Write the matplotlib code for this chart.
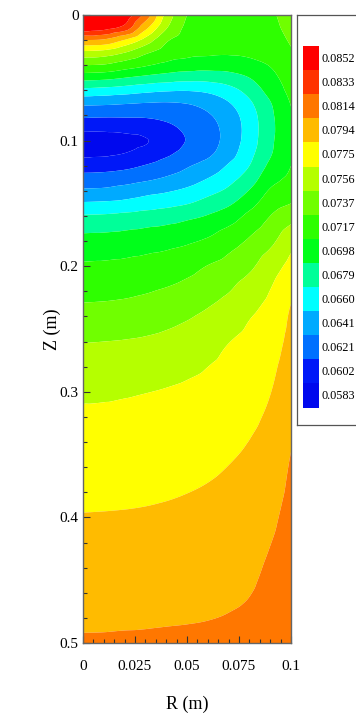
import matplotlib
matplotlib.use("Agg")
import matplotlib.pyplot as plt
import matplotlib.tri as mtri
from matplotlib.patches import Rectangle
from matplotlib.ticker import MultipleLocator
import numpy as np

plt.rcParams["font.family"] = ["Liberation Serif", "DejaVu Serif"]

# ------------------------------------------------------------
# data
# ------------------------------------------------------------
r_vals = [0.0, 0.01, 0.02, 0.03, 0.04, 0.05, 0.06, 0.07, 0.08, 0.09, 0.1]
z_vals = [0.0, 0.01, 0.02, 0.03, 0.04, 0.05, 0.06, 0.07, 0.08, 0.09,
          0.10, 0.11, 0.12, 0.13, 0.14, 0.15, 0.16, 0.18, 0.20, 0.23,
          0.26, 0.30, 0.35, 0.40, 0.45, 0.48, 0.50]

# field value in units of 1e-5, one row per z, one column per r
field_e5 = [
    [8900, 8840, 8660, 8270, 7700, 7370, 7300, 7280, 7290, 7340, 7460],
    [8660, 8600, 8450, 8000, 7580, 7330, 7290, 7270, 7280, 7320, 7430],
    [8140, 8110, 7930, 7680, 7400, 7290, 7260, 7250, 7260, 7290, 7390],
    [7700, 7670, 7560, 7400, 7280, 7220, 7200, 7190, 7210, 7260, 7350],
    [7370, 7350, 7270, 7190, 7120, 7080, 7060, 7060, 7100, 7180, 7300],
    [7050, 7030, 6980, 6930, 6890, 6860, 6860, 6900, 6980, 7110, 7260],
    [6740, 6720, 6690, 6650, 6620, 6610, 6640, 6720, 6860, 7050, 7220],
    [6460, 6450, 6430, 6410, 6400, 6420, 6480, 6590, 6760, 6970, 7180],
    [6250, 6240, 6240, 6240, 6270, 6320, 6390, 6510, 6700, 6940, 7150],
    [6060, 6060, 6070, 6100, 6160, 6250, 6340, 6480, 6680, 6930, 7130],
    [5960, 5960, 5980, 6010, 6090, 6220, 6330, 6480, 6690, 6940, 7130],
    [5980, 5990, 6020, 6080, 6170, 6280, 6370, 6520, 6730, 6960, 7140],
    [6120, 6130, 6160, 6220, 6300, 6390, 6480, 6620, 6790, 7020, 7170],
    [6280, 6290, 6320, 6370, 6430, 6500, 6600, 6720, 6880, 7100, 7210],
    [6440, 6450, 6490, 6540, 6580, 6640, 6730, 6830, 6990, 7190, 7270],
    [6620, 6630, 6650, 6690, 6730, 6780, 6860, 6950, 7100, 7280, 7370],
    [6805, 6812, 6834, 6863, 6892, 6936, 6991, 7075, 7218, 7370, 7489],
    [7043, 7049, 7063, 7084, 7107, 7142, 7197, 7290, 7396, 7516, 7687],
    [7194, 7200, 7212, 7233, 7260, 7306, 7376, 7437, 7527, 7662, 7807],
    [7376, 7382, 7394, 7416, 7448, 7489, 7543, 7605, 7700, 7790, 7940],
    [7554, 7560, 7568, 7581, 7603, 7637, 7685, 7745, 7800, 7860, 7991],
    [7721, 7725, 7734, 7746, 7760, 7778, 7801, 7830, 7868, 7935, 8059],
    [7842, 7844, 7847, 7854, 7864, 7879, 7898, 7925, 7961, 8023, 8143],
    [7948, 7950, 7953, 7958, 7966, 7977, 7991, 8011, 8040, 8105, 8200],
    [8053, 8054, 8057, 8060, 8066, 8073, 8082, 8096, 8119, 8180, 8250],
    [8115, 8116, 8119, 8122, 8126, 8130, 8136, 8147, 8167, 8215, 8285],
    [8157, 8158, 8161, 8162, 8166, 8169, 8173, 8181, 8199, 8250, 8310],
]

# legend levels (low -> high) and their flood colours
levels = [0.0583, 0.0602, 0.0621, 0.0641, 0.0660, 0.0679, 0.0698, 0.0717,
          0.0737, 0.0756, 0.0775, 0.0794, 0.0814, 0.0833, 0.0852]
level_colors = ["#0008EE", "#0018F8", "#0070FF", "#00AAFF", "#00FFFF",
                "#00FF99", "#00FF1A", "#2EFF00", "#70FF00", "#B5FF00",
                "#FFFF00", "#FFBB00", "#FF7700", "#FF3300", "#FF0000"]

x_ticks = [0, 0.025, 0.05, 0.075, 0.1]
x_ticklabels = ["0", "0.025", "0.05", "0.075", "0.1"]
y_ticks = [0, 0.1, 0.2, 0.3, 0.4, 0.5]
y_ticklabels = ["0", "0.1", "0.2", "0.3", "0.4", "0.5"]

# ------------------------------------------------------------
# smooth flood: triangulate the grid, refine with a cubic interpolator
# ------------------------------------------------------------
V = np.array(field_e5) * 1e-5
nz, nr = V.shape
R, Z = np.meshgrid(r_vals, z_vals)
tris = []
for j in range(nz - 1):
    for i in range(nr - 1):
        a = j * nr + i
        b, c, d = a + 1, a + nr, a + nr + 1
        tris += [[a, b, d], [a, d, c]]
triang = mtri.Triangulation(R.ravel(), Z.ravel(), tris)
interp = mtri.CubicTriInterpolator(triang, V.ravel(), kind="geom")
refiner = mtri.UniformTriRefiner(triang)
tri_fine, v_fine = refiner.refine_field(V.ravel(), triinterpolator=interp,
                                        subdiv=4)

# ------------------------------------------------------------
# figure
# ------------------------------------------------------------
W, H = 356, 722
fig = plt.figure(figsize=(W / 100, H / 100), dpi=100)
fig.patch.set_facecolor("white")

ax = fig.add_axes([83 / W, 1 - 643 / H, 208 / W, 628 / H])
ax.tricontourf(tri_fine, v_fine, levels=levels + [0.095],
               colors=level_colors, extend="min", antialiased=True)

ax.set_xlim(0, 0.1)
ax.set_ylim(0.5, 0)
ax.set_xticks(x_ticks)
ax.set_xticklabels(x_ticklabels)
ax.set_yticks(y_ticks)
ax.set_yticklabels(y_ticklabels)
ax.xaxis.set_minor_locator(MultipleLocator(0.005))
ax.yaxis.set_minor_locator(MultipleLocator(0.02))
ax.tick_params(which="both", direction="in", color="#333333",
               labelsize=11, width=0.8)
ax.tick_params(which="major", length=5)
ax.tick_params(which="minor", length=3)
ax.tick_params(axis="x", pad=12)
ax.tick_params(axis="y", pad=3)
for sp in ax.spines.values():
    sp.set_color("#666666")
    sp.set_linewidth(1.0)

ax.set_xlabel("R (m)", fontsize=13)
ax.set_ylabel("Z (m)", fontsize=13)
ax.xaxis.set_label_coords(0.5, -(696 - 643) / 628)
ax.yaxis.set_label_coords((61 - 83) / 208, 0.5)

# ---------- legend box ----------
lax = fig.add_axes([297 / W, 1 - 425 / H, 80 / W, 410 / H])
lax.set_xlim(0, 80)
lax.set_ylim(410, 0)
lax.set_xticks([])
lax.set_yticks([])
for sp in lax.spines.values():
    sp.set_color("#555555")
    sp.set_linewidth(0.9)

sw_top, sw_h = 31, 24.1
for k, (val, col) in enumerate(zip(reversed(levels), reversed(level_colors))):
    y0 = sw_top + k * sw_h
    lax.add_patch(Rectangle((6, y0), 16, sw_h, facecolor=col, linewidth=0))
    lax.text(24.5, y0 + sw_h / 2 + 1, f"{val:.4f}", ha="left", va="center",
             fontsize=8.8)

fig.savefig("out.png", dpi=100)
